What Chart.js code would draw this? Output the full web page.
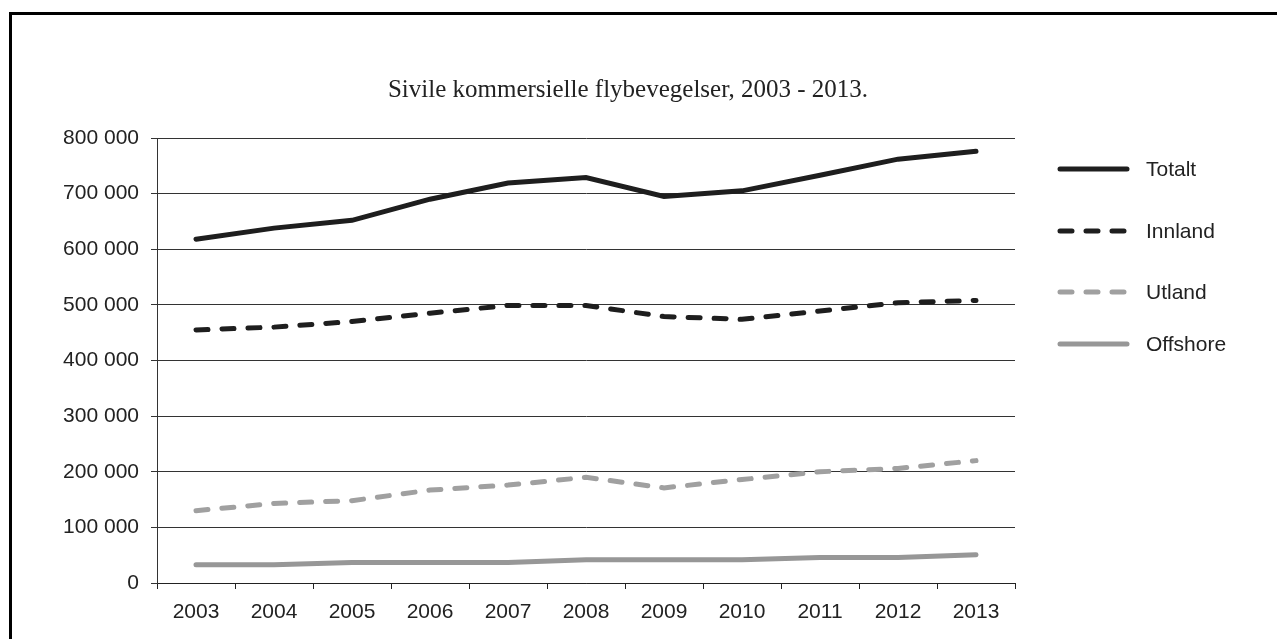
<!DOCTYPE html>
<html>
<head>
<meta charset="utf-8">
<script src="https://cdn.jsdelivr.net/npm/chart.js@4.4.0/dist/chart.umd.min.js"></script>
<style>
  html, body { margin: 0; padding: 0; background: #fff; overflow: hidden; }
  #frame { position: absolute; left: 9px; top: 12px; width: 1400px; height: 800px; border: 3px solid #000; }
  #wrap { position: absolute; left: 0; top: 0; width: 1277px; height: 639px; }
</style>
</head>
<body>
<div id="frame"></div>
<div id="wrap"><canvas id="myChart"></canvas></div>
<script>
// Data
const years = ['2003', '2004', '2005', '2006', '2007', '2008', '2009', '2010', '2011', '2012', '2013'];
const totalt = [618000, 638000, 652000, 690000, 719000, 729000, 695000, 705000, 733000, 762000, 776000];
const innland = [455000, 460000, 470000, 485000, 499000, 499000, 479000, 474000, 489000, 504000, 508000];
const utland = [130000, 143000, 148000, 167000, 176000, 190000, 171000, 186000, 200000, 206000, 220000];
const offshore = [33000, 33000, 37000, 37000, 37000, 42000, 42000, 42000, 46000, 46000, 51000];

const labelFont = '"Liberation Sans", Arial, sans-serif';

// legend drawn at the right side, like the original
const sideLegend = {
    id: 'sideLegend',
    afterDraw(chart) {
        const ctx = chart.ctx;
        const rows = [169, 231, 292, 344];
        chart.data.datasets.forEach((ds, i) => {
            const y = rows[i];
            ctx.save();
            ctx.strokeStyle = ds.borderColor;
            ctx.lineWidth = 5;
            ctx.lineCap = 'round';
            ctx.setLineDash(ds.borderDash || []);
            ctx.beginPath();
            ctx.moveTo(1060, y);
            ctx.lineTo(1127, y);
            ctx.stroke();
            ctx.setLineDash([]);
            ctx.fillStyle = '#222';
            ctx.font = '21px ' + labelFont;
            ctx.textBaseline = 'middle';
            ctx.fillText(ds.label, 1146, y + 1);
            ctx.restore();
        });
    }
};

const ctx = document.getElementById('myChart').getContext('2d');
const myChart = new Chart(ctx, {
    type: 'line',
    data: {
        labels: years,
        datasets: [{
            label: 'Totalt',
            data: totalt,
            borderColor: '#1e1e1e',
            borderWidth: 5,
            borderCapStyle: 'round'
        },
        {
            label: 'Innland',
            data: innland,
            borderColor: '#1e1e1e',
            borderWidth: 5,
            borderDash: [12, 14],
            borderCapStyle: 'round'
        },
        {
            label: 'Utland',
            data: utland,
            borderColor: '#a0a0a0',
            borderWidth: 5,
            borderDash: [12, 14],
            borderCapStyle: 'round'
        },
        {
            label: 'Offshore',
            data: offshore,
            borderColor: '#979797',
            borderWidth: 5,
            borderCapStyle: 'round'
        }]
    },
    options: {
        responsive: true,
        maintainAspectRatio: false,
        animation: false,
        elements: {
            point: { radius: 0 },
            line: { tension: 0, fill: false }
        },
        layout: {
            padding: { top: 75, right: 21, bottom: 0, left: 0 }
        },
        plugins: {
            legend: { display: false },
            tooltip: { enabled: false },
            title: {
                display: true,
                text: 'Sivile kommersielle flybevegelser, 2003 - 2013.',
                color: '#222',
                font: { family: '"Liberation Serif", "Times New Roman", serif', size: 25, weight: 'normal', lineHeight: 1.2 },
                padding: { top: 0, bottom: 33 }
            }
        },
        scales: {
            x: {
                offset: true,
                afterFit(scale) { scale.height = 56; },
                grid: {
                    offset: true,
                    drawOnChartArea: false,
                    drawTicks: true,
                    tickLength: 6,
                    color: '#222'
                },
                border: { color: '#222', width: 1 },
                ticks: {
                    color: '#222',
                    padding: 11,
                    maxRotation: 0,
                    font: { family: labelFont, size: 21 }
                }
            },
            y: {
                min: 0,
                max: 800000,
                afterFit(scale) { scale.width = 157; },
                grid: {
                    color: '#333',
                    tickLength: 6
                },
                border: { color: '#333', width: 1 },
                ticks: {
                    stepSize: 100000,
                    color: '#222',
                    padding: 12,
                    font: { family: labelFont, size: 21 },
                    callback: function(v) {
                        return v.toString().replace(/\B(?=(\d{3})+(?!\d))/g, ' ');
                    }
                }
            },
            // empty axis that keeps the right side free for the legend
            side: {
                position: 'right',
                display: true,
                afterFit(scale) { scale.width = 241; },
                grid: { display: false },
                border: { display: false },
                ticks: { display: false }
            }
        }
    },
    plugins: [sideLegend]
});
</script>
</body>
</html>
